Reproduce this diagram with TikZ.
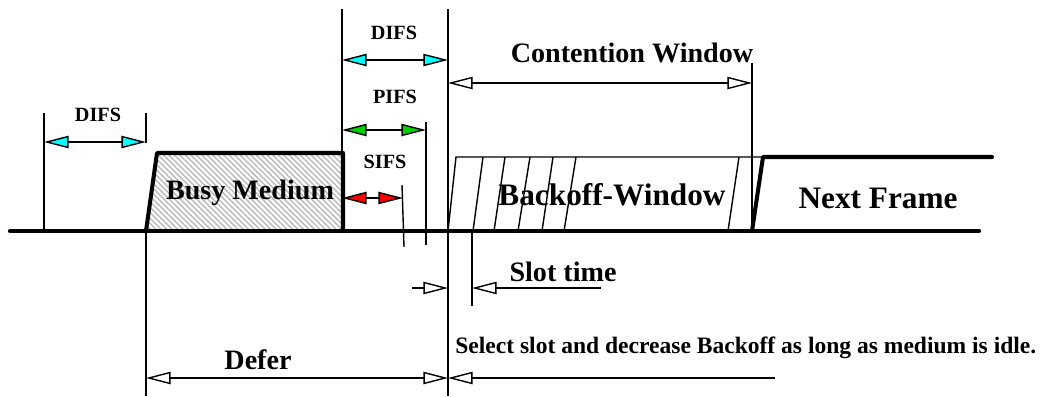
\documentclass[tikz,border=0pt]{standalone}
\usepackage{fontspec}
\setmainfont{Liberation Serif}
\usetikzlibrary{arrows.meta,patterns.meta}
\definecolor{difscyan}{RGB}{0,255,255}
\definecolor{pifsgreen}{RGB}{0,210,0}
\definecolor{sifsred}{RGB}{255,0,0}
\tikzset{wtip/.tip={Triangle[length=14pt,width=7pt,fill=white]}}

\begin{document}
\begin{tikzpicture}[x=0.02cm,y=-0.02cm,
      tline/.style={line width=0.8pt},
      fat/.style={line width=2.3pt,line cap=round,line join=round},
      ifs/.style={font=\bfseries\fontsize{11.5}{13}\selectfont,inner sep=0pt},
      lbl/.style={font=\bfseries\fontsize{16}{18}\selectfont,inner sep=0pt},
      big/.style={font=\bfseries\fontsize{17.8}{20}\selectfont,inner sep=0pt},
      dim/.style={tline,{Triangle[length=14pt,width=7pt,fill=#1]}-{Triangle[length=14pt,width=7pt,fill=#1]}}
    ]
    \useasboundingbox (0,0) rectangle (1054,396);
    % Busy medium (hatched)
    \draw[fat,pattern={Lines[angle=-45,distance=2.2pt,line width=0.8pt]},pattern color=gray!55]
      (146,231) -- (157,153) -- (343,153) -- (343,231);
    \node[lbl] (busy) at (250,193) {Busy Medium};
    % Backoff window
    \draw[tline] (448,231) -- (456,157) -- (763,157);
    \foreach \b/\t in {473/483,494/505,518/530,542/553,564/576,728/739}
      \draw[tline] (\b,231) -- (\t,157);
    \node[big] (backoff) at (612,195) {Backoff-Window};
    % Next frame
    \draw[fat] (752,231) -- (763,157) -- (992,157);
    \node[big] (next) at (878,198) {Next Frame};
    % Time line
    \draw[line width=2.4pt,line cap=round] (10,231) -- (979,231);
    % Marks
    \draw[tline] (44,113) -- (44,231);
    \draw[tline] (146,113) -- (146,143);
    \draw[tline] (146,231) -- (146,396);
    \draw[tline] (342,9) -- (342,231);
    \draw[tline] (448,9) -- (448,396);
    \draw[tline] (426,122) -- (426,245);
    \draw[tline] (402,185) -- (404,247);
    \draw[tline] (752,63) -- (752,231);
    \draw[tline] (472,231) -- (472,306);
    % Interframe spaces
    \coordinate (difs1a) at (44,142);
    \coordinate (difs1b) at (146,142);
    \coordinate (difs2a) at (342,60);
    \coordinate (difs2b) at (448,60);
    \coordinate (pifsa) at (342,130);
    \coordinate (pifsb) at (426,130);
    \coordinate (sifsa) at (342,198);
    \coordinate (sifsb) at (403,198);
    \draw[dim=difscyan] (difs1a) -- (difs1b);
    \draw[dim=difscyan] (difs2a) -- (difs2b);
    \draw[dim=pifsgreen] (pifsa) -- (pifsb);
    \draw[dim=sifsred] (sifsa) -- (sifsb);
    \node[ifs] (difs1) at (98,115) {DIFS};
    \node[ifs] (difs2) at (394,33) {DIFS};
    \node[ifs] (pifs) at (395,97) {PIFS};
    \node[ifs] (sifs) at (385,162) {SIFS};
    % Contention window
    \coordinate (cwa) at (448,83);
    \coordinate (cwb) at (752,83);
    \draw[dim=white] (cwa) -- (cwb);
    \node[lbl] (cw) at (632,53) {Contention Window};
    % Slot time
    \coordinate (sla) at (412,288);
    \coordinate (slb) at (448,288);
    \coordinate (slc) at (472,288);
    \coordinate (sld) at (601,288);
    \draw[tline,-wtip] (sla) -- (slb);
    \draw[tline,wtip-] (slc) -- (sld);
    \node[lbl] (slot) at (563,272) {Slot time};
    % Defer
    \coordinate (dfa) at (146,378);
    \coordinate (dfb) at (448,378);
    \coordinate (sel) at (775,378);
    \draw[dim=white] (dfa) -- (dfb);
    \draw[tline,wtip-] (dfb) -- (sel);
    \node[lbl] (defer) at (258,360) {Defer};
    \node[font=\bfseries\fontsize{13.4}{15}\selectfont,inner sep=0pt,anchor=west] (select) at (455,348)
      {Select slot and decrease Backoff as long as medium is idle.};
  \end{tikzpicture}
\end{document}
